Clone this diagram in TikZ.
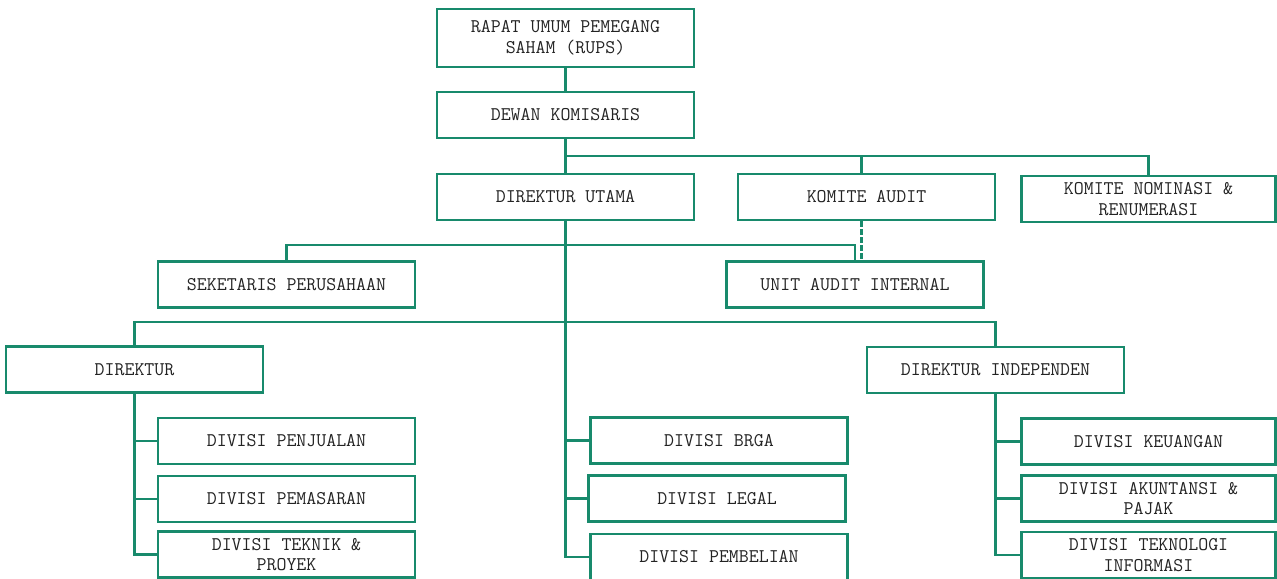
\documentclass[tikz,border=0pt]{standalone}
\usepackage{fontspec}
\usetikzlibrary{positioning}

\definecolor{orgline}{RGB}{24,138,108}
\definecolor{orgtext}{RGB}{35,35,35}

\tikzset{
	unit/.style = {draw = orgline, line width = 2pt, fill = white, minimum width = 192.75pt, minimum height = 34.5pt, inner sep = 0pt, align = center, text = orgtext, font = \ttfamily\fontsize{14.5}{15.5}\selectfont},
	unit tall/.style = {unit, minimum height = 43.5pt},
	unit edge/.style = {unit, minimum width = 190.5pt},
	link/.style = {draw = orgline, line width = 2pt},
	link dashed/.style = {link, dash pattern = on 4pt off 2pt}
}

\begin{document}
\begin{tikzpicture}[x = 0.75pt, y = -0.75pt]
		\useasboundingbox (0,0) rectangle (1277,578);
		
		% top level
		\node [unit tall] (rups) at (565.5,38) {RAPAT UMUM PEMEGANG\\SAHAM (RUPS)};
		\node [unit] (dewan) at (565.5,115) {DEWAN KOMISARIS};
		
		\node [unit] (dirut) at (565.5,197) {DIREKTUR UTAMA};
		\node [unit] (komaudit) at (866.5,197) {KOMITE AUDIT};
		\node [unit edge] (komnom) at (1148.5,199) {KOMITE NOMINASI \&\\RENUMERASI};
		
		\node [unit] (seketaris) at (286.5,284.5) {SEKETARIS PERUSAHAAN};
		\node [unit] (unitaudit) at (855,284.5) {UNIT AUDIT INTERNAL};
		
		% directors
		\node [unit] (direktur) at (134.5,369.5) {DIREKTUR};
		\node [unit] (dirind) at (995.5,370) {DIREKTUR INDEPENDEN};
		
		% divisions
		\node [unit] (penjualan) at (286.5,441) {DIVISI PENJUALAN};
		\node [unit] (pemasaran) at (286.5,499) {DIVISI PEMASARAN};
		\node [unit] (teknik) at (286.5,554.5) {DIVISI TEKNIK \&\\PROYEK};
		
		\node [unit] (brga) at (719,440.5) {DIVISI BRGA};
		\node [unit] (legal) at (717,498.5) {DIVISI LEGAL};
		\node [unit] (pembelian) at (719,557) {DIVISI PEMBELIAN};
		
		\node [unit edge] (keuangan) at (1148.5,441.5) {DIVISI KEUANGAN};
		\node [unit edge] (akuntansi) at (1148.5,498.5) {DIVISI AKUNTANSI \&\\PAJAK};
		\node [unit edge] (teknologi) at (1148.5,555) {DIVISI TEKNOLOGI\\INFORMASI};
		
		% connectors
		\coordinate (bus top) at (565.5,156);
		\coordinate (bus staff) at (565.5,245);
		\coordinate (bus dir) at (565.5,322);
		\coordinate (audit link) at ([xshift = -4pt]komaudit.south);
		
		\draw [link] (rups) -- (dewan);
		\draw [link] (dewan) -- (dirut);
		\draw [link] (bus top) -| ([xshift = -4pt]komaudit.north);
		\draw [link] (bus top) -| (komnom.north);
		
		\draw [link] (bus staff) -| (seketaris.north);
		\draw [link] (bus staff) -| (unitaudit.north);
		\draw [link dashed] (audit link) -- (audit link |- unitaudit.north);
		
		\draw [link] (bus dir) -| (direktur.north);
		\draw [link] (bus dir) -| (dirind.north);
		
		\draw [link] (dirut.south) |- (brga.west);
		\draw [link] (dirut.south) |- (legal.west);
		\draw [link] (dirut.south) |- (pembelian.west);
		
		\draw [link] (direktur.south) |- (penjualan.west);
		\draw [link] (direktur.south) |- (pemasaran.west);
		\draw [link] (direktur.south) |- (teknik.west);
		
		\draw [link] (dirind.south) |- (keuangan.west);
		\draw [link] (dirind.south) |- (akuntansi.west);
		\draw [link] (dirind.south) |- (teknologi.west);
	\end{tikzpicture}
\end{document}
